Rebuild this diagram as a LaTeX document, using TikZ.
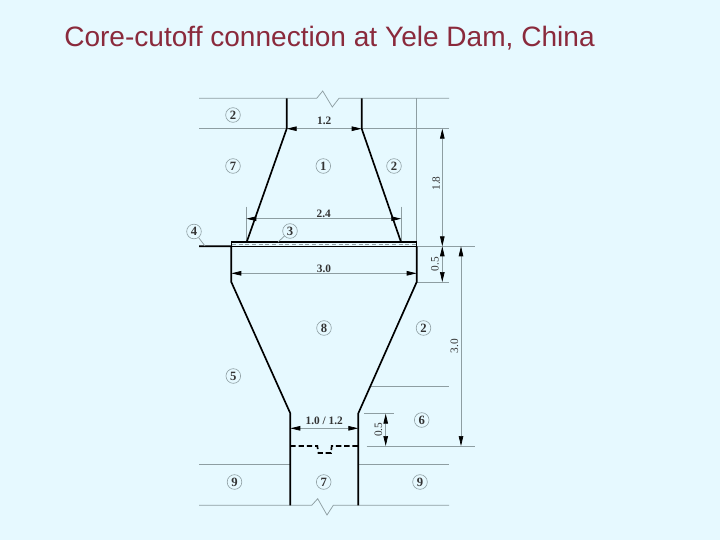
\documentclass[tikz,border=0pt]{standalone}
\usepackage{fontspec}
\setmainfont{Liberation Serif}
\newfontfamily\titlefont{Liberation Sans}
\usetikzlibrary{arrows.meta}
\definecolor{backblue}{HTML}{E6F9FF}
\definecolor{titlered}{HTML}{8A2A3C}
\definecolor{thinline}{HTML}{8E9EA2}

\begin{document}
\begin{tikzpicture}[
            x = 0.75pt, y = -0.75pt, % one unit is one pixel
            > = {Stealth[length=7.5pt,width=3.4pt,inset=0pt,black]}, % arrow head style
            wall/.style = {draw = black, line width = 1.25pt},
            thin line/.style = {draw = thinline, line width = 0.55pt},
            dim line/.style = {thin line, <->},
            dim text/.style = {font = \fontsize{8.5}{9}\selectfont\bfseries, text = black!80, inner sep = 0pt},
            side text/.style = {font = \fontsize{8.5}{9}\selectfont, text = black!80, inner sep = 0pt},
            zone/.style = {circle, draw = thinline, line width = 0.45pt, fill = backblue,
                minimum size = 11pt, inner sep = 0pt,
                font = \fontsize{9.5}{9}\selectfont\bfseries, text = black!80}
        ]

        \useasboundingbox[fill = backblue] (0,0) rectangle (720,540);

        \node[anchor = base west, inner sep = 0pt, text = titlered,
            font = \titlefont\fontsize{21.05}{24}\selectfont] (title) at (64,46) {Core-cutoff connection at Yele Dam, China};

        % ground lines
        \draw[thin line] (199,98.3) -- (316.7,98.3) -- (322.7,91) -- (332.3,107) -- (339,98.3) -- (449,98.3);
        \draw[thin line] (199,128.7) -- (286.7,128.7);
        \draw[thin line] (361.7,128.7) -- (449,128.7);
        \draw[thin line] (416.7,98.3) -- (416.7,242);
        \draw[thin line] (416.7,246.3) -- (475,246.3);
        \draw[thin line] (416.7,282) -- (449,282);
        \draw[thin line] (370.7,386.3) -- (449,386.3);
        \draw[thin line] (364,413.7) -- (394,413.7);
        \draw[thin line] (366.7,446) -- (475,446);
        \draw[thin line] (199,464.3) -- (290.3,464.3);
        \draw[thin line] (358.3,464.3) -- (449,464.3);
        \draw[thin line] (199,505.3) -- (311.7,505.3) -- (317.7,498.7) -- (327,515) -- (333.3,505.3) -- (449,505.3);
        \draw[thin line] (246.3,206.7) -- (246.3,242);
        \draw[thin line] (401.3,206.7) -- (401.3,242);

        % core and cutoff
        \draw[wall] (286.7,98.3) -- (286.7,128.7) -- (246.7,242);
        \draw[wall] (361.7,98.3) -- (361.7,128.7) -- (401,242);
        \draw[thin line, densely dashed, line width = 0.4pt] (232,244.2) -- (416,244.2);
        \draw[wall, line width = 1pt] (231.3,242) rectangle (416.7,246.3);
        \draw[wall] (199,246.3) -- (231.3,246.3) -- (231.3,282) -- (290.3,413.3) -- (290.3,505.3);
        \draw[wall] (416.7,246.3) -- (416.7,282) -- (358.3,413.3) -- (358.3,505.3);
        \draw[wall, dash pattern = on 4pt off 2.2pt] (290.3,446) -- (317.3,446) -- (318.5,453) -- (331,453) -- (331.7,446) -- (358.3,446);

        % dimensions
        \draw[dim line] (286.7,128.7) -- node[dim text, yshift = 6pt] (w12) {1.2} (361.7,128.7);
        \draw[dim line] (246.3,218.7) -- node[dim text, yshift = 4pt] (w24) {2.4} (401.3,218.7);
        \draw[dim line] (231.3,273.3) -- node[dim text, yshift = 3.7pt] (w30) {3.0} (416.7,273.3);
        \draw[dim line] (290.3,428.3) -- node[dim text, yshift = 5.5pt] (w10) {1.0 / 1.2} (358.3,428.3);
        \draw[dim line] (442.3,128.7) -- node[side text, rotate = 90, xshift = 3pt, yshift = 4.5pt] (h18) {1.8} (442.3,246.3);
        \draw[dim line] (442.3,246.3) -- node[side text, rotate = 90, yshift = 5.5pt] (h05) {0.5} (442.3,282);
        \draw[dim line] (461,246.3) -- node[side text, rotate = 90, yshift = 5pt] (h30) {3.0} (461,446);
        \draw[dim line] (385.7,413.7) -- node[side text, rotate = 90, yshift = 5.5pt] (h05b) {0.5} (385.7,446);

        % zones
        \node[zone] (a2) at (233,115) {2};
        \node[zone] (a7) at (233,166) {7};
        \node[zone] (a1) at (323.3,166) {1};
        \node[zone] (b2) at (394,166) {2};
        \node[zone] (a4) at (194,231.5) {4};
        \node[zone] (a3) at (290,231) {3};
        \node[zone] (a8) at (324,328) {8};
        \node[zone] (c2) at (423.5,328) {2};
        \node[zone] (a5) at (233.3,376) {5};
        \node[zone] (a6) at (421.7,420) {6};
        \node[zone] (a9) at (234.5,482) {9};
        \node[zone] (b7) at (323.7,482) {7};
        \node[zone] (b9) at (420,482) {9};

        \coordinate (p4) at (205,246);
        \coordinate (p3) at (278,242);
        \draw[thin line] (a4) -- (p4);
        \draw[thin line] (a3) -- (p3);
    \end{tikzpicture}
\end{document}
